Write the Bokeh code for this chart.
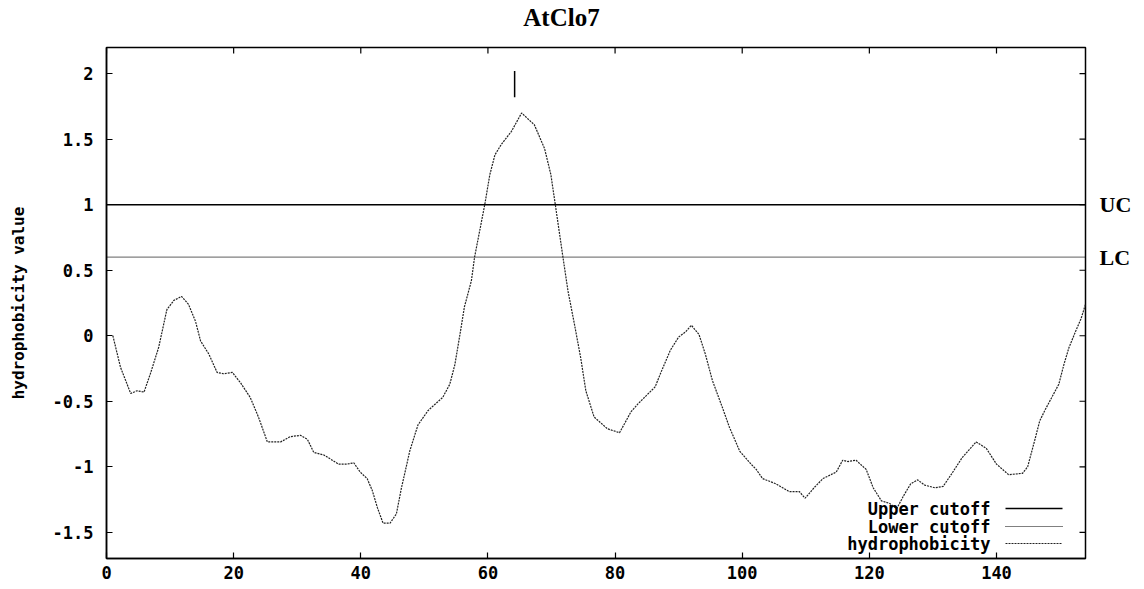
from bokeh.plotting import figure
from bokeh.models import Range1d, FixedTicker, LinearAxis
from bokeh.core.properties import value
from bokeh.embed import file_html
from bokeh.resources import INLINE

# ---- data ----
title_text = "AtClo7"
y_label = "hydrophobicity value"

position = [1.0, 2.2, 3.8, 4.8, 5.9, 6.9, 8.2, 9.5, 10.6, 11.8, 12.9, 14.0, 14.8, 16.1,
            17.4, 18.4, 19.8, 21.1, 22.6, 23.9, 25.3, 27.4, 28.9, 30.5, 31.6, 32.6, 34.2,
            35.2, 36.5, 37.8, 38.9, 39.9, 41.0, 41.8, 42.6, 43.5, 44.6, 45.6, 46.4, 47.2,
            47.7, 49.0, 50.6, 52.2, 52.9, 54.0, 54.8, 55.6, 56.3, 57.4, 57.9, 58.7, 59.5,
            60.3, 61.1, 62.1, 63.7, 65.3, 67.3, 68.9, 69.9, 70.6, 71.8, 72.6, 73.6, 74.6,
            75.4, 76.7, 78.8, 80.7, 81.5, 82.5, 83.6, 86.3, 87.3, 88.7, 90.0, 91.1, 92.0,
            93.2, 94.2, 95.3, 96.9, 98.0, 99.6, 101.4, 102.2, 103.2, 105.3, 107.4, 109.0,
            109.9, 111.3, 112.7, 114.8, 115.8, 116.6, 117.9, 119.5, 120.6, 121.9, 123.2,
            124.3, 125.4, 126.5, 127.6, 128.7, 130.3, 131.6, 133.0, 134.6, 136.8, 138.4,
            140.0, 141.9, 144.1, 144.9, 146.0, 146.8, 147.6, 148.7, 149.8, 150.6, 151.4,
            152.5, 153.3, 154.0]
hydrophobicity = [0.00, -0.24, -0.44, -0.42, -0.43, -0.29, -0.09, 0.20, 0.27, 0.30, 0.24,
                  0.11, -0.04, -0.14, -0.28, -0.29, -0.28, -0.36, -0.47, -0.62, -0.81, -0.81,
                  -0.77, -0.76, -0.79, -0.89, -0.91, -0.94, -0.98, -0.98, -0.97, -1.04, -1.09,
                  -1.18, -1.31, -1.43, -1.43, -1.36, -1.16, -0.99, -0.88, -0.68, -0.57, -0.50,
                  -0.47, -0.37, -0.22, 0.01, 0.22, 0.42, 0.60, 0.80, 1.00, 1.23, 1.38, 1.46,
                  1.56, 1.70, 1.61, 1.43, 1.23, 1.00, 0.60, 0.34, 0.09, -0.17, -0.42, -0.62,
                  -0.71, -0.74, -0.67, -0.58, -0.52, -0.39, -0.27, -0.11, -0.01, 0.03, 0.08,
                  0.01, -0.14, -0.34, -0.55, -0.70, -0.88, -0.98, -1.02, -1.09, -1.13, -1.19,
                  -1.19, -1.24, -1.16, -1.09, -1.04, -0.95, -0.96, -0.95, -1.02, -1.16, -1.26,
                  -1.28, -1.32, -1.22, -1.13, -1.10, -1.14, -1.16, -1.15, -1.05, -0.93, -0.81,
                  -0.86, -0.98, -1.06, -1.05, -1.00, -0.80, -0.65, -0.57, -0.47, -0.37, -0.22,
                  -0.09, 0.04, 0.13, 0.24]
upper_cutoff = 1.0
lower_cutoff = 0.6
cutoff_tags = ["UC", "LC"]
peak_marker_x = [64.2]
peak_marker_y0 = [1.82]
peak_marker_y1 = [2.02]
x_ticks = [0, 20, 40, 60, 80, 100, 120, 140]
y_ticks = [-1.5, -1, -0.5, 0, 0.5, 1, 1.5, 2]
y_tick_labels = ["-1.5", "-1", "-0.5", "0", "0.5", "1", "1.5", "2"]
legend_labels = ["Upper cutoff", "Lower cutoff", "hydrophobicity"]

X_MIN, X_MAX = 0, 154
Y_MIN, Y_MAX = -1.7, 2.2

W, H = 1136, 586
BL, BR, BT, BB = 106, 51, 47, 28
FRAME_W = W - BL - BR
FRAME_H = H - BT - BB
PX_X = (X_MAX - X_MIN) / FRAME_W   # data units per pixel
PX_Y = (Y_MAX - Y_MIN) / FRAME_H
TITLE_X = X_MIN + 455 * PX_X       # title centre, as placed in the reference

MONO = "DejaVu Sans Mono"
SERIF = "Liberation Serif"

p = figure(width=W, height=H, x_range=Range1d(X_MIN, X_MAX), y_range=Range1d(Y_MIN, Y_MAX),
           output_backend="svg", toolbar_location=None,
           min_border_left=BL, min_border_right=BR, min_border_top=BT, min_border_bottom=BB)
p.background_fill_color = "white"
p.border_fill_color = "white"
p.outline_line_color = "black"
p.outline_line_width = 1.5
p.xgrid.visible = False
p.ygrid.visible = False

def style_axis(ax):
    ax.axis_line_color = "black"
    ax.axis_line_width = 1.5
    ax.major_tick_in = 6
    ax.major_tick_out = 0
    ax.minor_tick_line_color = None
    ax.major_tick_line_color = "black"
    ax.major_tick_line_width = 1.2
    ax.major_label_text_font = MONO
    ax.major_label_text_font_style = "bold"
    ax.major_label_text_font_size = "17px"
    ax.major_label_text_color = "black"

xa = p.xaxis[0]
style_axis(xa)
xa.ticker = FixedTicker(ticks=x_ticks)
xa.major_label_standoff = 7

ya = p.yaxis[0]
style_axis(ya)
ya.ticker = FixedTicker(ticks=y_ticks)
ya.major_label_overrides = {t: l for t, l in zip(y_ticks, y_tick_labels)}
ya.major_label_standoff = 13
ya.axis_label = y_label
ya.axis_label_text_font = MONO
ya.axis_label_text_font_style = "bold"
ya.axis_label_text_font_size = "16px"
ya.axis_label_text_color = "black"
ya.axis_label_standoff = 22

def bare_axis(ticks, labels, standoff, size):
    ax = LinearAxis(ticker=FixedTicker(ticks=ticks),
                    major_label_overrides=dict(zip(ticks, labels)))
    ax.axis_line_color = None
    ax.major_tick_line_color = None
    ax.minor_tick_line_color = None
    ax.major_tick_in = 0
    ax.major_tick_out = 0
    ax.major_label_standoff = standoff
    ax.major_label_text_font = SERIF
    ax.major_label_text_font_style = "bold"
    ax.major_label_text_font_size = size
    ax.major_label_text_color = "black"
    return ax

# chart title, set above the frame where the reference has it
p.add_layout(bare_axis([TITLE_X], [title_text], 17, "25px"), "above")

# UC / LC tags on the right of the frame
p.add_layout(bare_axis([upper_cutoff, lower_cutoff], cutoff_tags, 14, "22px"), "right")

# mirrored inward ticks on top and right edges (gnuplot style)
p.segment(x0=x_ticks, y0=[Y_MAX] * len(x_ticks), x1=x_ticks,
          y1=[Y_MAX - 6 * PX_Y] * len(x_ticks), line_color="black", line_width=1.2)
p.segment(x0=[X_MAX] * len(y_ticks), y0=y_ticks, x1=[X_MAX - 6 * PX_X] * len(y_ticks),
          y1=y_ticks, line_color="black", line_width=1.2)

# cutoff lines
p.line(x=[X_MIN, X_MAX], y=[upper_cutoff, upper_cutoff], line_color="black", line_width=1.5)
p.line(x=[X_MIN, X_MAX], y=[lower_cutoff, lower_cutoff], line_color="black", line_width=1.2,
       line_dash="1 1")

# hydrophobicity profile
p.line(x=position, y=hydrophobicity, line_color="#222222", line_width=1.2, line_dash="2 1")

# peak marker
p.segment(x0=peak_marker_x, y0=peak_marker_y0, x1=peak_marker_x, y1=peak_marker_y1,
          line_color="black", line_width=1.5)

# gnuplot-style key (text right-aligned, sample line on the right)
key_x_text = X_MAX - 95 * PX_X
key_x0, key_x1 = X_MAX - 80 * PX_X, X_MAX - 23 * PX_X
key_rows = [Y_MIN + 50 * PX_Y, Y_MIN + 32 * PX_Y, Y_MIN + 15 * PX_Y]
p.text(x=[key_x_text] * 3, y=key_rows, text=legend_labels, text_align="right",
       text_baseline="middle", text_font=value(MONO), text_font_style="bold",
       text_font_size="17px", text_color="black")
p.segment(x0=[key_x0], y0=[key_rows[0]], x1=[key_x1], y1=[key_rows[0]],
          line_color="black", line_width=1.5)
p.segment(x0=[key_x0], y0=[key_rows[1]], x1=[key_x1], y1=[key_rows[1]],
          line_color="black", line_width=1.2, line_dash="1 1")
p.segment(x0=[key_x0], y0=[key_rows[2]], x1=[key_x1], y1=[key_rows[2]],
          line_color="#222222", line_width=1.2, line_dash="2 1")

open("out.html", "w").write(file_html(p, INLINE))
